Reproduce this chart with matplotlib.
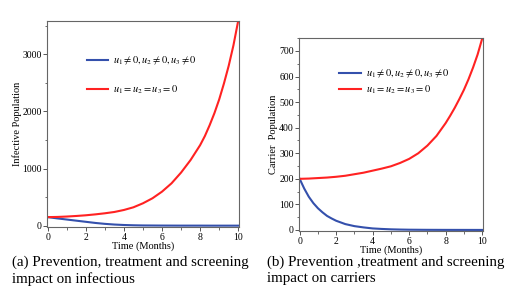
import matplotlib
matplotlib.use("Agg")
import matplotlib.pyplot as plt
from matplotlib.ticker import MultipleLocator

plt.rcParams['font.family'] = ['Liberation Serif', 'DejaVu Serif']
plt.rcParams['mathtext.fontset'] = 'stix'

# time grids (months)
t = [0, 0.5, 1, 1.5, 2, 2.5, 3, 3.5, 4, 4.5, 5,
     5.5, 6, 6.5, 7, 7.5, 8, 8.5, 9, 9.5, 10]
t_red = [0, 0.5, 1, 1.5, 2, 2.5, 3, 3.5, 4, 4.5, 5, 5.5, 6, 6.5, 7, 7.5,
         8, 8.25, 8.5, 8.75, 9, 9.25, 9.5, 9.75, 10]

# (a) infectious population
inf_control = [150, 128, 108, 88, 68, 48, 32, 20, 12, 7, 4,
               3, 2, 1.5, 1, 1, 1, 0.5, 0.5, 0.5, 0.5]
inf_none = [150, 153, 160, 170, 182, 198, 217, 240, 275, 322, 392,
            480, 596, 742, 930, 1150, 1410, 1570, 1760, 1970, 2210,
            2490, 2800, 3160, 3590]

# (b) carrier population
t_car = [0, 0.25, 0.5, 0.75, 1, 1.25, 1.5, 1.75, 2, 2.5, 3, 3.5, 4,
         4.5, 5, 5.5, 6, 7, 8, 9, 10]
car_control = [200, 162, 130, 105, 85, 69, 55, 45, 36, 23, 15, 10, 6,
               4, 2.5, 1.6, 1, 0.5, 0.3, 0.2, 0.1]
car_none = [200, 201, 203, 205, 208, 212, 218, 224, 232, 240, 249,
            262, 278, 300, 330, 368, 418, 447, 478, 512, 548,
            589, 635, 686, 748]

lab_on = r'$u_1 \neq 0, u_2 \neq 0, u_3 \neq 0$'
lab_off = r'$u_1 = u_2 = u_3 = 0$'
blue = '#3450ac'
red = '#ff2222'

fig = plt.figure(figsize=(5.3, 3.07), dpi=100)
ax1 = fig.add_axes([0.0892, 0.2606, 0.361, 0.672])
ax2 = fig.add_axes([0.5647, 0.2476, 0.3457, 0.6296])

ax1.plot(t, inf_control, color=blue, lw=1.5, label=lab_on)
ax1.plot(t_red, inf_none, color=red, lw=1.5, label=lab_off)
ax1.set_ylim(-23, 3590)
ax1.yaxis.set_major_locator(MultipleLocator(1000))
ax1.yaxis.set_minor_locator(MultipleLocator(500))
ax1.set_ylabel('Infective Population', fontsize=7.5)
ax1.yaxis.set_label_coords(-0.134, 0.5)

ax2.plot(t_car, car_control, color=blue, lw=1.5, label=lab_on)
ax2.plot(t_red, car_none, color=red, lw=1.5, label=lab_off)
ax2.set_ylim(-4, 752)
ax2.yaxis.set_major_locator(MultipleLocator(100))
ax2.yaxis.set_minor_locator(MultipleLocator(50))
ax2.set_ylabel('Carrier  Population', fontsize=7.5)
ax2.yaxis.set_label_coords(-0.116, 0.5)

for ax in (ax1, ax2):
    ax.set_xlim(-0.02, 10.02)
    ax.xaxis.set_major_locator(MultipleLocator(2))
    ax.xaxis.set_minor_locator(MultipleLocator(1))
    ax.set_xlabel('Time (Months)', fontsize=7.5, labelpad=0)
    ax.tick_params(which='both', direction='out', labelsize=7, pad=1,
                   color='#555555')
    ax.tick_params(which='major', length=3, width=0.7)
    ax.tick_params(which='minor', length=1.8, width=0.6)
    for s in ax.spines.values():
        s.set_color('#666666')
        s.set_linewidth(0.8)

ax1.legend(loc='upper left', bbox_to_anchor=(0.18, 0.86), frameon=False,
           fontsize=7.5, handlelength=2.0, handletextpad=0.5,
           labelspacing=1.55, borderpad=0)
ax2.legend(loc='upper left', bbox_to_anchor=(0.19, 0.87), frameon=False,
           fontsize=7.5, handlelength=2.1, handletextpad=0.5,
           labelspacing=0.3, borderpad=0)

fig.text(0.022, 0.168, '(a) Prevention, treatment and screening\nimpact on infectious',
         fontsize=10.8, va='top', ha='left', linespacing=1.35)
fig.text(0.503, 0.168, '(b) Prevention ,treatment and screening\nimpact on carriers',
         fontsize=10.8, va='top', ha='left', linespacing=1.35)

fig.savefig('out.png', dpi=100)
